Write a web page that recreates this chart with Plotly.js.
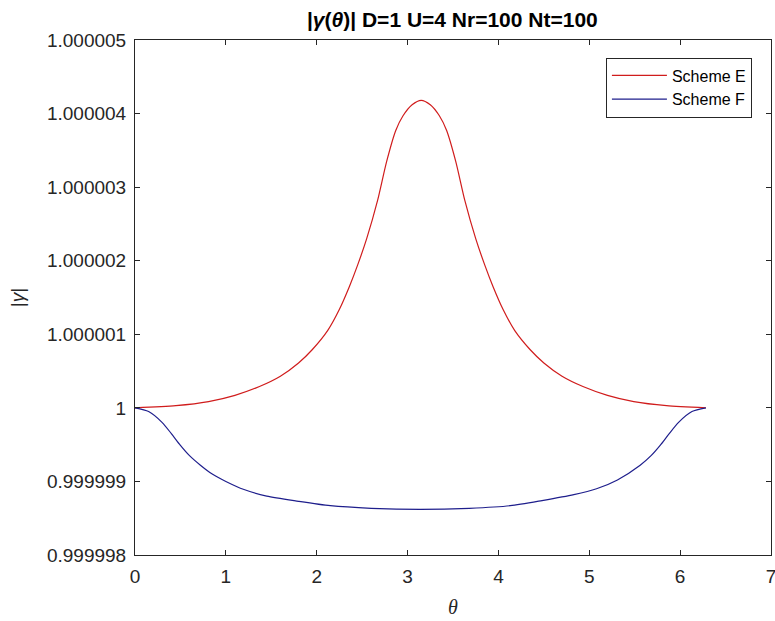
<!DOCTYPE html>
<html>
<head>
<meta charset="utf-8">
<script src="https://cdn.plot.ly/plotly-3.0.1.min.js"></script>
<style>html,body{margin:0;padding:0;background:#fff;}#plot{width:775px;height:621px;}</style>
</head>
<body>
<div id="plot"></div>
<script>
// Scheme E
var thetaE = [0, 0.45, 0.81, 1.10, 1.37, 1.60, 1.80, 1.95, 2.12, 2.25, 2.36, 2.45, 2.55, 2.67, 2.77, 2.87, 2.95, 3.05, 3.15, 3.25, 3.35, 3.43, 3.53, 3.63, 3.75, 3.85, 3.94, 4.05, 4.18, 4.35, 4.50, 4.70, 4.93, 5.20, 5.49, 5.85, 6.283];
var gammaE = [1.0, 1.00000003, 1.000000085, 1.00000017, 1.00000029, 1.00000043, 1.00000061, 1.00000079, 1.00000105, 1.00000134, 1.00000165, 1.00000194, 1.0000023, 1.00000282, 1.00000335, 1.00000377, 1.00000397, 1.00000412, 1.00000418, 1.00000412, 1.00000397, 1.00000377, 1.00000335, 1.00000282, 1.0000023, 1.00000194, 1.00000165, 1.00000134, 1.00000105, 1.00000079, 1.00000061, 1.00000043, 1.00000029, 1.00000017, 1.000000085, 1.00000003, 1.0];
// Scheme F
var thetaF = [0, 0.15, 0.3, 0.4, 0.5, 0.6, 0.72, 0.85, 1.0, 1.2, 1.45, 1.8, 2.15, 2.6, 3.14, 3.68, 4.13, 4.48, 4.83, 5.08, 5.31, 5.56, 5.68, 5.78, 5.88, 5.98, 6.13, 6.283];
var gammaF = [1.0, 0.99999995, 0.9999998, 0.99999965, 0.99999949, 0.99999935, 0.99999922, 0.9999991, 0.999999, 0.99999889, 0.9999988, 0.99999873, 0.99999867, 0.999998635, 0.99999862, 0.999998635, 0.99999867, 0.99999874, 0.99999882, 0.9999989, 0.99999902, 0.99999922, 0.99999935, 0.99999949, 0.99999965, 0.9999998, 0.99999995, 1.0];
var seriesNames = ["Scheme E", "Scheme F"];
var yTickVals = [0.999998, 0.999999, 1.0, 1.000001, 1.000002, 1.000003, 1.000004, 1.000005];
var yTickText = ["0.999998", "0.999999", "1", "1.000001", "1.000002", "1.000003", "1.000004", "1.000005"];
var xTickVals = [0, 1, 2, 3, 4, 5, 6, 7];

var axisColor = '#262626';
var font = 'Liberation Sans, Arial, sans-serif';

var traces = [
  {x: thetaE, y: gammaE, name: seriesNames[0], type: 'scatter', mode: 'lines',
   line: {color: '#d01c1c', width: 1.2, shape: 'spline', smoothing: 0.7}},
  {x: thetaF, y: gammaF, name: seriesNames[1], type: 'scatter', mode: 'lines',
   line: {color: '#1e1e8c', width: 1.2, shape: 'spline', smoothing: 0.7}}
];

var layout = {
  width: 775, height: 621,
  margin: {l: 134.5, r: 4, t: 39.5, b: 65.5},
  paper_bgcolor: '#fff', plot_bgcolor: '#fff',
  font: {family: font, color: axisColor, size: 19},
  showlegend: true,
  title: {text: '<b>|<i>γ</i>(<i>θ</i>)| D=1 U=4 Nr=100 Nt=100</b>', font: {size: 21, family: font, color: '#000'},
          x: 0.5837, xanchor: 'center', y: 0.969, yanchor: 'middle'},
  xaxis: {
    range: [0, 7], tickvals: xTickVals, ticktext: xTickVals.map(String),
    showgrid: false, zeroline: false, showline: true, linecolor: axisColor, linewidth: 1,
    mirror: 'ticks', ticks: 'inside', ticklen: 5, tickcolor: axisColor, tickwidth: 1,
    tickfont: {size: 19, color: axisColor, family: font}, ticklabelstandoff: 4,
    ticklabeloverflow: 'allow',
    title: {text: '<i>θ</i>', font: {size: 20, color: axisColor, family: 'Liberation Serif, serif'}, standoff: 14}
  },
  yaxis: {
    range: [0.999998, 1.000005], tickvals: yTickVals, ticktext: yTickText,
    showgrid: false, zeroline: false, showline: true, linecolor: axisColor, linewidth: 1,
    mirror: 'ticks', ticks: 'inside', ticklen: 5, tickcolor: axisColor, tickwidth: 1,
    tickfont: {size: 19, color: axisColor, family: font}, ticklabelstandoff: 4,
    title: {text: '|<i>γ</i>|', font: {size: 19, color: axisColor, family: font}, standoff: 17}
  },
  legend: {
    x: 0.970, y: 0.966, xanchor: 'right', yanchor: 'top',
    bgcolor: '#fff', bordercolor: axisColor, borderwidth: 1,
    font: {size: 16, color: '#000', family: font},
    tracegroupgap: 0, itemwidth: 55
  }
};

Plotly.newPlot('plot', traces, layout, {displayModeBar: false, staticPlot: true});
</script>
</body>
</html>
